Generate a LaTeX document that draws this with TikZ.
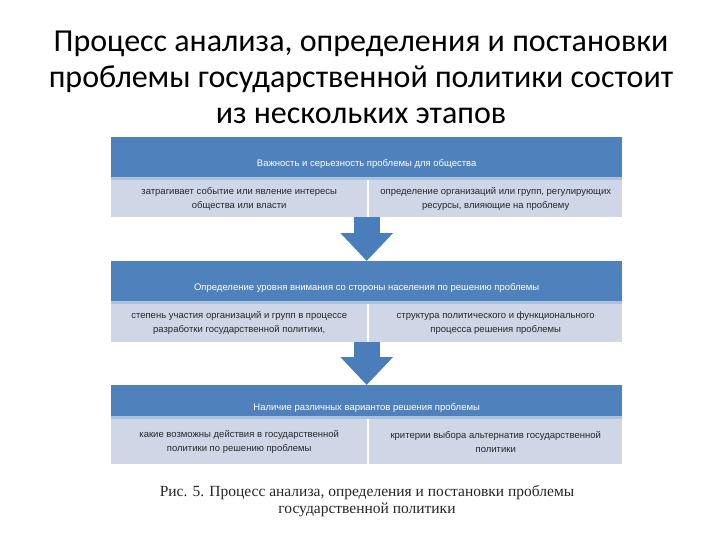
\documentclass[tikz,border=0pt]{standalone}
\usepackage{fontspec}
\setmainfont{Liberation Sans}
\newfontfamily\titlefont{Carlito}
\newfontfamily\capfont{Liberation Serif}
\usetikzlibrary{arrows.meta}

\definecolor{hdrblue}{RGB}{79,129,189}
\definecolor{arrblue}{RGB}{74,126,187}
\definecolor{cellgray}{RGB}{207,215,231}
\definecolor{bandblue}{RGB}{170,194,224}

\begin{document}
\begin{tikzpicture}[x=1pt,y=-1pt]
  \useasboundingbox (0,0) rectangle (720,540);
  \fill[white] (0,0) rectangle (720,540);

  \node[font=\titlefont\fontsize{32}{36}\selectfont, align=center, inner sep=0pt,
        anchor=north] (title) at (361,31)
       {Процесс анализа, определения и постановки\\
        проблемы государственной политики состоит\\
        из нескольких этапов};

  \begin{scope}[every node/.style={fill=hdrblue, text=white, anchor=north west,
      minimum width=511pt, inner ysep=3pt, font=\fontsize{9.5}{12}\selectfont}]
    \node[text height=26pt, text depth=9pt] (h1) at (111,137)
         {Важность и серьезность проблемы для общества};
    \node[text height=26pt, text depth=9pt] (h2) at (111,261)
         {Определение уровня внимания со стороны населения по решению проблемы};
    \node[text height=22pt, text depth=4pt] (h3) at (111,385)
         {Наличие различных вариантов решения проблемы};
  \end{scope}

  \begin{scope}[every node/.style={fill=cellgray, text=black!85, anchor=north west,
      align=center, inner sep=2pt, font=\fontsize{9.5}{14}\selectfont}]
    \node[minimum width=256pt, minimum height=37pt] (l1) at (111,180)
         {затрагивает событие или явление интересы\\общества или власти};
    \node[minimum width=253pt, minimum height=37pt] (r1) at (369,180)
         {определение организаций или групп, регулирующих\\ресурсы, влияющие на проблему};
    \node[minimum width=256pt, minimum height=38pt] (l2) at (111,304)
         {степень участия организаций и групп в процессе\\разработки государственной политики,};
    \node[minimum width=253pt, minimum height=38pt] (r2) at (369,304)
         {структура политического и функционального\\процесса решения проблемы};
    \node[minimum width=256pt, minimum height=45pt] (l3) at (111,419)
         {какие возможны действия в государственной\\политики по решению проблемы};
    \node[minimum width=253pt, minimum height=45pt] (r3) at (369,419)
         {критерии выбора альтернатив государственной\\политики};
  \end{scope}

  \begin{scope}[every path/.style={bandblue, line width=2.5pt}]
    \draw (h1.south west) -- (h1.south east);
    \draw (h2.south west) -- (h2.south east);
    \draw (h3.south west) -- (h3.south east);
  \end{scope}

  \begin{scope}[every path/.style={arrblue, line width=26pt,
      -{Triangle[length=28pt,width=51pt]}}]
    \draw (l1.south -| h1.south) -- (h2.north);
    \draw (l2.south -| h2.south) -- (h3.north);
  \end{scope}

  \node[font=\capfont\fontsize{15.5}{17}\selectfont, align=center, text=black!85,
        inner sep=0pt, anchor=north] (caption) at (367,485)
       {Рис. 5. Процесс анализа, определения и постановки проблемы\\
        государственной политики};

\end{tikzpicture}
\end{document}
